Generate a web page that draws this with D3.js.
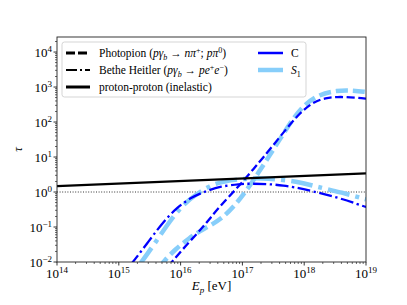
<!DOCTYPE html>
<html>
<head>
<meta charset="utf-8">
<script src="https://cdn.jsdelivr.net/npm/d3@7"></script>
<style>
  body { margin: 0; background: #fff; }
  #chart text { font-family: "Liberation Serif", "Times New Roman", Times, "DejaVu Serif", serif; }
</style>
</head>
<body>
<svg id="chart" width="407" height="305"></svg>
<script>
// Values, stored as log10 of E_p [eV] and log10 of tau
const ppLogE = [14, 19];
const ppLogTau = [0.17, 0.534];

const pionC_logE = [15.80, 15.86, 16.10, 16.35, 16.48, 16.70, 16.96, 17.15, 17.32, 17.61, 17.90, 18.15, 18.35, 18.53, 18.75, 18.95, 19.0];
const pionC_logTau = [-2.12, -2.0, -1.50, -1.03, -0.74, -0.28, 0.20, 0.60, 0.95, 1.58, 2.22, 2.58, 2.69, 2.72, 2.71, 2.68, 2.67];

const pionS_logE = [15.66, 15.72, 15.91, 16.15, 16.31, 16.52, 16.70, 16.85, 17.01, 17.24, 17.40, 17.82, 17.98, 18.21, 18.53, 18.80, 19.0];
const pionS_logTau = [-2.15, -2.0, -1.64, -1.30, -1.12, -0.92, -0.70, -0.43, -0.10, 0.50, 0.93, 2.11, 2.45, 2.77, 2.91, 2.90, 2.86];

const bhC_logE = [15.18, 15.23, 15.50, 15.72, 15.94, 16.15, 16.43, 16.64, 16.96, 17.12, 17.40, 17.66, 17.93, 18.09, 18.58, 18.98, 19.0];
const bhC_logTau = [-2.10, -2.0, -1.37, -0.85, -0.45, -0.17, 0.04, 0.16, 0.23, 0.24, 0.23, 0.19, 0.11, 0.04, -0.17, -0.42, -0.43];

const bhS_logE = [15.32, 15.37, 15.62, 15.83, 16.04, 16.27, 16.48, 16.64, 17.01, 17.40, 17.93, 18.20, 18.58, 18.98, 19.0];
const bhS_logTau = [-2.10, -2.0, -1.37, -0.82, -0.36, -0.04, 0.18, 0.28, 0.39, 0.40, 0.29, 0.15, 0.0, -0.20, -0.21];

const xTickExps = [14, 15, 16, 17, 18, 19];
const yTickExps = [-2, -1, 0, 1, 2, 3, 4];

const colorC = "#0000ff";
const colorS = "#87cefa";

const svg = d3.select("#chart");
const margin = { top: 37, right: 41, bottom: 43, left: 57 };
const width = 407 - margin.left - margin.right;
const height = 305 - margin.top - margin.bottom;

const x = d3.scaleLog().domain([1e14, 1e19]).range([0, width]);
const y = d3.scaleLog().domain([1e-2, Math.pow(10, 4.43)]).range([height, 0]);

const g = svg.append("g").attr("transform", `translate(${margin.left},${margin.top})`);

g.append("clipPath").attr("id", "clip")
  .append("rect").attr("width", width).attr("height", height);

const plot = g.append("g").attr("clip-path", "url(#clip)");

const toPts = (le, lt) => le.map((v, i) => [Math.pow(10, v), Math.pow(10, lt[i])]);

const line = d3.line()
  .x(d => x(d[0]))
  .y(d => y(d[1]))
  .curve(d3.curveBasis);

// tau = 1 reference
plot.append("line")
  .attr("x1", 0).attr("x2", width)
  .attr("y1", y(1)).attr("y2", y(1))
  .attr("stroke", "#000").attr("stroke-width", 0.8)
  .attr("stroke-dasharray", "1,1.6");

const series = [
  { pts: toPts(pionS_logE, pionS_logTau), color: colorS, w: 4.5, dash: "12,5" },
  { pts: toPts(bhS_logE, bhS_logTau), color: colorS, w: 4.5, dash: "22,6,4,6" },
  { pts: toPts(pionC_logE, pionC_logTau), color: colorC, w: 2.3, dash: "8,3.5" },
  { pts: toPts(bhC_logE, bhC_logTau), color: colorC, w: 2.3, dash: "13,3.5,2.3,3.5" },
  { pts: toPts(ppLogE, ppLogTau), color: "#000", w: 2.3, dash: null }
];

series.forEach(s => {
  plot.append("path")
    .datum(s.pts)
    .attr("d", line)
    .attr("fill", "none")
    .attr("stroke", s.color)
    .attr("stroke-width", s.w)
    .attr("stroke-dasharray", s.dash);
});

// Axes: custom log ticks
function minorTicks(lo, hi) {
  const out = [];
  for (let e = Math.floor(lo); e <= Math.ceil(hi); e++) {
    for (let m = 2; m <= 9; m++) {
      const v = m * Math.pow(10, e);
      if (Math.log10(v) > lo && Math.log10(v) < hi) out.push(v);
    }
  }
  return out;
}

const xAxis = g.append("g").attr("transform", `translate(0,${height})`);
xAxis.selectAll("line.major").data(xTickExps).enter().append("line")
  .attr("x1", d => x(Math.pow(10, d))).attr("x2", d => x(Math.pow(10, d)))
  .attr("y1", 0).attr("y2", 3.5).attr("stroke", "#000").attr("stroke-width", 0.8);
xAxis.selectAll("line.minor").data(minorTicks(14, 19)).enter().append("line")
  .attr("x1", d => x(d)).attr("x2", d => x(d))
  .attr("y1", 0).attr("y2", 2).attr("stroke", "#000").attr("stroke-width", 0.6);
const xl = xAxis.selectAll("text").data(xTickExps).enter().append("text")
  .attr("x", d => x(Math.pow(10, d)))
  .attr("y", 16)
  .attr("text-anchor", "middle")
  .attr("font-size", 13);
xl.append("tspan").text("10");
xl.append("tspan").attr("dy", -5).attr("font-size", 9).text(d => d);

const yAxis = g.append("g");
yAxis.selectAll("line.major").data(yTickExps).enter().append("line")
  .attr("y1", d => y(Math.pow(10, d))).attr("y2", d => y(Math.pow(10, d)))
  .attr("x1", 0).attr("x2", -3.5).attr("stroke", "#000").attr("stroke-width", 0.8);
yAxis.selectAll("line.minor").data(minorTicks(-2, 4.43)).enter().append("line")
  .attr("y1", d => y(d)).attr("y2", d => y(d))
  .attr("x1", 0).attr("x2", -2).attr("stroke", "#000").attr("stroke-width", 0.6);
const yl = yAxis.selectAll("text").data(yTickExps).enter().append("text")
  .attr("x", -5)
  .attr("y", d => y(Math.pow(10, d)) + 5)
  .attr("text-anchor", "end")
  .attr("font-size", 13);
yl.append("tspan").text("10");
yl.append("tspan").attr("dy", -5).attr("font-size", 9).text(d => d < 0 ? "\u2212" + (-d) : d);

// Frame
g.append("rect").attr("width", width).attr("height", height)
  .attr("fill", "none").attr("stroke", "#222").attr("stroke-width", 0.9);

// Axis labels
const xlab = svg.append("text")
  .attr("x", margin.left + width / 2).attr("y", 290)
  .attr("text-anchor", "middle").attr("font-size", 13);
xlab.append("tspan").attr("font-style", "italic").text("E");
xlab.append("tspan").attr("font-style", "italic").attr("font-size", 9).attr("dy", 3).text("p");
xlab.append("tspan").attr("dy", -3).text(" [eV]");

svg.append("text")
  .attr("transform", `translate(22,${margin.top + height / 2}) rotate(-90)`)
  .attr("text-anchor", "middle").attr("font-size", 13)
  .attr("font-style", "italic").text("\u03c4");

// Legend
const leg = g.append("g").attr("transform", "translate(5,5)");
leg.append("rect").attr("width", 244).attr("height", 55).attr("rx", 2.5)
  .attr("fill", "#fff").attr("fill-opacity", 0.8)
  .attr("stroke", "#d0d0d0").attr("stroke-width", 0.9);

const legRowY = [11, 28, 45];
const handles = [
  { dash: "9,3", w: 3 },
  { dash: "11,3,2,3", w: 2 },
  { dash: null, w: 3 }
];
handles.forEach((h, i) => {
  leg.append("line").attr("x1", 4).attr("x2", 28)
    .attr("y1", legRowY[i]).attr("y2", legRowY[i])
    .attr("stroke", "#000").attr("stroke-width", h.w)
    .attr("stroke-dasharray", h.dash);
});

function legText(row, parts) {
  const t = leg.append("text").attr("x", 37).attr("y", legRowY[row] + 4).attr("font-size", 11.5);
  parts.forEach(p => {
    const s = t.append("tspan").text(p.t);
    if (p.i) s.attr("font-style", "italic");
    if (p.dy) s.attr("dy", p.dy);
    if (p.small) s.attr("font-size", 8);
  });
}
legText(0, [
  { t: "Photopion (" }, { t: "p\u03b3", i: 1 }, { t: "b", i: 1, dy: 2.5, small: 1 },
  { t: " \u2192 ", dy: -2.5 }, { t: "n\u03c0", i: 1 }, { t: "+", dy: -4, small: 1 },
  { t: "; ", dy: 4 }, { t: "p\u03c0", i: 1 }, { t: "0", dy: -4, small: 1 }, { t: ")", dy: 4 }
]);
legText(1, [
  { t: "Bethe Heitler (" }, { t: "p\u03b3", i: 1 }, { t: "b", i: 1, dy: 2.5, small: 1 },
  { t: " \u2192 ", dy: -2.5 }, { t: "pe", i: 1 }, { t: "+", dy: -4, small: 1 },
  { t: "e", i: 1, dy: 4 }, { t: "\u2212", dy: -4, small: 1 }, { t: ")", dy: 4 }
]);
legText(2, [{ t: "proton-proton (inelastic)" }]);

const leg2 = [
  { color: colorC, w: 2.5 },
  { color: colorS, w: 4.5 }
];
leg2.forEach((h, i) => {
  leg.append("line").attr("x1", 196).attr("x2", 221)
    .attr("y1", legRowY[i]).attr("y2", legRowY[i])
    .attr("stroke", h.color).attr("stroke-width", h.w);
});
leg.append("text").attr("x", 229).attr("y", legRowY[0] + 4).attr("font-size", 11.5).text("C");
const s1 = leg.append("text").attr("x", 229).attr("y", legRowY[1] + 4).attr("font-size", 11.5);
s1.append("tspan").attr("font-style", "italic").text("S");
s1.append("tspan").attr("font-size", 8).attr("dy", 2.5).text("1");
</script>
</body>
</html>
